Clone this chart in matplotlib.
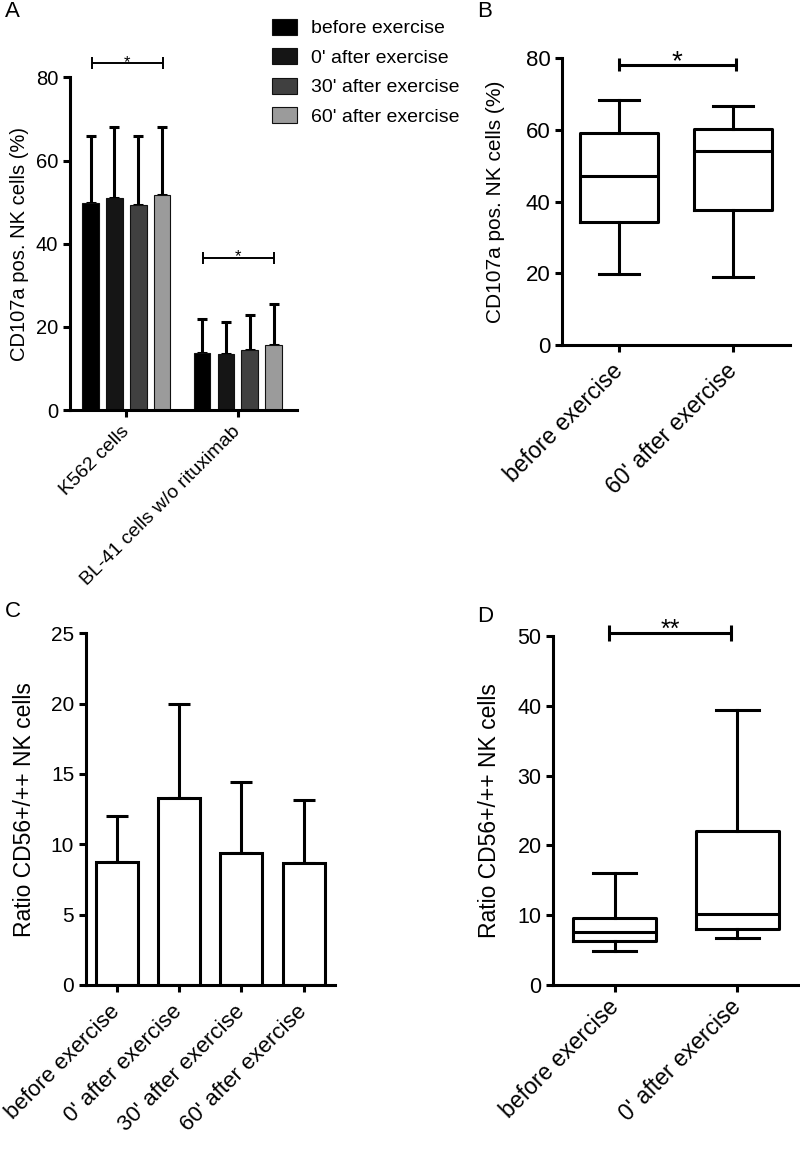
import matplotlib
matplotlib.use("Agg")
import matplotlib.pyplot as plt
import numpy as np

plt.rcParams['font.family'] = ['Liberation Sans', 'DejaVu Sans']

# Panel A: CD107a degranulation, mean + SD
groups_a = ['K562 cells', 'BL-41 cells w/o rituximab']
series_a = ['before exercise', "0' after exercise", "30' after exercise", "60' after exercise"]
means_a = [[49.8, 13.6], [51.1, 13.5], [49.3, 14.5], [51.8, 15.6]]
sd_a = [[16.1, 8.3], [17.0, 7.7], [16.6, 8.3], [16.2, 9.9]]
colors_a = ['#000000', '#151515', '#404040', '#9b9b9b']

# Panel B: CD107a boxplot
labels_b = ['before exercise', "60' after exercise"]
whislo_b = [19.8, 19.1]
q1_b = [34.2, 37.7]
med_b = [47.3, 54.0]
q3_b = [59.3, 60.2]
whishi_b = [68.4, 66.6]

# Panel C: ratio CD56+/++ NK cells, mean + SD
labels_c = ['before exercise', "0' after exercise", "30' after exercise", "60' after exercise"]
means_c = [8.75, 13.3, 9.4, 8.65]
sd_c = [3.25, 6.65, 5.05, 4.5]

# Panel D: ratio boxplot
labels_d = ['before exercise', "0' after exercise"]
whislo_d = [4.8, 6.7]
q1_d = [6.35, 8.0]
med_d = [7.65, 10.1]
q3_d = [9.55, 22.0]
whishi_d = [16.1, 39.4]

LW = 2.2


def style_axes(ax, lw=LW):
    for side in ['top', 'right']:
        ax.spines[side].set_visible(False)
    for side in ['left', 'bottom']:
        ax.spines[side].set_linewidth(lw)
    ax.tick_params(width=lw, length=5, direction='out')


def rot_labels(ax, labels, fs, pad):
    ax.set_xticklabels(labels, rotation=45, ha='right', va='center',
                       rotation_mode='anchor', fontsize=fs)
    ax.tick_params(axis='x', pad=pad)


def sig_bar(ax, x1, x2, y, h, text, lw, fs, dy):
    ax.hlines(y, x1, x2, color='black', lw=lw, clip_on=False)
    ax.vlines([x1, x2], y - h, y + h, color='black', lw=lw, clip_on=False)
    ax.annotate(text, xy=((x1 + x2) / 2, y), xytext=(0, dy), textcoords='offset points',
                ha='center', va='baseline', fontsize=fs, annotation_clip=False)


def boxes(ax, whislo, q1, med, q3, whishi, labels):
    stats = []
    for i in range(len(labels)):
        stats.append({'whislo': whislo[i], 'q1': q1[i], 'med': med[i],
                      'q3': q3[i], 'whishi': whishi[i], 'label': labels[i]})
    props = dict(color='black', linewidth=LW)
    ax.bxp(stats, positions=range(len(labels)), widths=0.68, capwidths=0.35,
           showfliers=False, boxprops=props, whiskerprops=props,
           capprops=props, medianprops=props)


fig = plt.figure(figsize=(8, 11.55), dpi=100)

# ---- A ----
axA = fig.add_axes([0.0875, 0.645, 0.2837, 0.288])
x = np.arange(len(groups_a))
step = 0.214
for i, name in enumerate(series_a):
    pos = x + (i - 1.5) * step
    axA.bar(pos, means_a[i], 0.15, color=colors_a[i], edgecolor='#111111',
            linewidth=0.8, label=name, zorder=2)
    axA.errorbar(pos, means_a[i], yerr=[np.zeros(len(x)), sd_a[i]], fmt='none',
                 ecolor='black', elinewidth=2.2, capsize=3.4, capthick=2.2, zorder=1)
axA.set_xlim(-0.505, 1.53)
axA.set_ylim(0, 80)
axA.set_yticks([0, 20, 40, 60, 80])
axA.set_xticks(x)
style_axes(axA)
rot_labels(axA, groups_a, 14, 9)
axA.tick_params(axis='y', labelsize=14.5)
axA.set_ylabel('CD107a pos. NK cells (%)', fontsize=14.5, labelpad=5)
sig_bar(axA, -0.31, 0.33, 83.4, 1.5, '*', 1.4, 12, -2.5)
sig_bar(axA, 0.69, 1.32, 36.6, 1.5, '*', 1.4, 12, -2.5)
axA.legend(loc='upper left', bbox_to_anchor=(0.855, 1.2), frameon=False,
           fontsize=14, handlelength=1.3, handleheight=0.9, handletextpad=0.7,
           labelspacing=0.55, borderaxespad=0)

# ---- B ----
axB = fig.add_axes([0.703, 0.7013, 0.2845, 0.2482])
boxes(axB, whislo_b, q1_b, med_b, q3_b, whishi_b, labels_b)
axB.set_xlim(-0.497, 1.497)
axB.set_ylim(0, 80)
axB.set_yticks([0, 20, 40, 60, 80])
axB.set_xticks([0, 1])
style_axes(axB)
rot_labels(axB, labels_b, 16.5, 11)
axB.tick_params(axis='y', labelsize=16)
axB.set_ylabel('CD107a pos. NK cells (%)', fontsize=15, labelpad=15)
sig_bar(axB, 0.0, 1.02, 78.2, 1.8, '*', LW, 20, -3)

# ---- C ----
axC = fig.add_axes([0.1075, 0.1472, 0.3113, 0.3045])
xc = np.arange(len(labels_c))
axC.bar(xc, means_c, 0.675, color='white', edgecolor='black', linewidth=LW, zorder=2)
axC.errorbar(xc, means_c, yerr=[np.zeros(len(xc)), sd_c], fmt='none', ecolor='black',
             elinewidth=LW, capsize=8, capthick=LW, zorder=1)
axC.set_xlim(-0.49, 3.5)
axC.set_ylim(0, 25)
axC.set_yticks([0, 5, 10, 15, 20, 25])
axC.set_xticks(xc)
style_axes(axC)
rot_labels(axC, labels_c, 16, 12)
axC.tick_params(axis='y', labelsize=15)
axC.set_ylabel('Ratio CD56+/++ NK cells', fontsize=16.5, labelpad=11)

# ---- D ----
axD = fig.add_axes([0.6917, 0.1472, 0.3063, 0.3022])
boxes(axD, whislo_d, q1_d, med_d, q3_d, whishi_d, labels_d)
axD.set_xlim(-0.503, 1.5)
axD.set_ylim(0, 50)
axD.set_yticks([0, 10, 20, 30, 40, 50])
axD.set_xticks([0, 1])
style_axes(axD)
rot_labels(axD, labels_d, 16.5, 8)
axD.tick_params(axis='y', labelsize=15.5)
axD.set_ylabel('Ratio CD56+/++ NK cells', fontsize=16.5, labelpad=12)
sig_bar(axD, -0.05, 0.95, 50.4, 1.1, '**', LW, 18, -3)

# panel letters
for letter, px, py in [('A', 0.006, 0.999), ('B', 0.596, 0.999),
                       ('C', 0.006, 0.4797), ('D', 0.596, 0.4753)]:
    fig.text(px, py, letter, fontsize=16, ha='left', va='top')

fig.savefig('out.png', dpi=100)
